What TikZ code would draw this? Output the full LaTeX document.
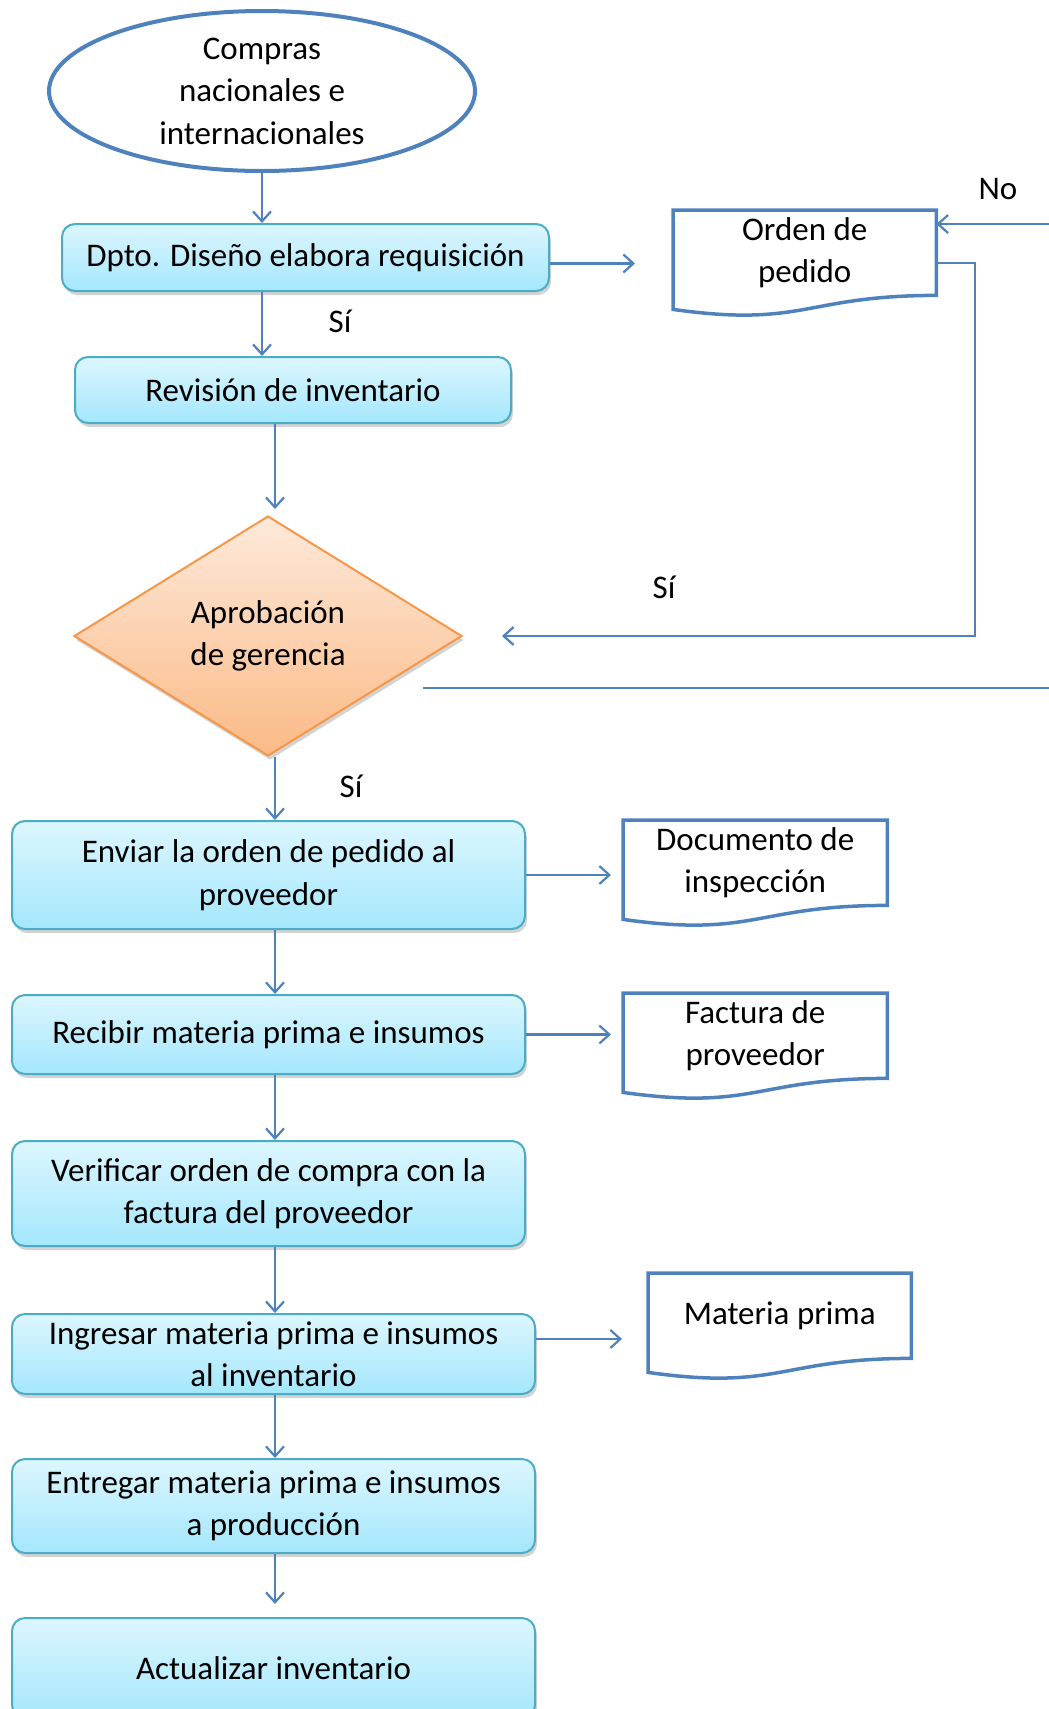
\documentclass[tikz,border=0pt]{standalone}
\usepackage{fontspec}
\setmainfont{Carlito}
\usetikzlibrary{shapes.geometric,arrows.meta,shadows,calc}
\definecolor{lineblue}{HTML}{4F81BD}
\definecolor{boxborder}{HTML}{4BACC6}
\definecolor{boxtop}{HTML}{DCF6FE}
\definecolor{boxbot}{HTML}{A4E7FC}
\definecolor{diatop}{HTML}{FDE9DA}
\definecolor{diabot}{HTML}{FBBA86}
\definecolor{diaborder}{HTML}{F79646}
\tikzset{
  txt/.style={font=\fontsize{33}{42.5}\selectfont, align=center, text=black},
  procbox/.style={txt, draw=boxborder, line width=2pt, rounded corners=13pt,
    top color=boxtop, bottom color=boxbot, inner sep=0pt,
    drop shadow={opacity=0.35, shadow xshift=2pt, shadow yshift=-4pt}},
  decbox/.style={txt, shape=diamond, draw=diaborder, line width=2pt,
    top color=diatop, bottom color=diabot, inner sep=0pt,
    minimum width=388pt, minimum height=240pt,
    drop shadow={opacity=0.35, shadow xshift=2pt, shadow yshift=-4pt}},
  startbox/.style={txt, shape=ellipse, draw=lineblue, line width=4pt, fill=white,
    minimum width=426pt, minimum height=160pt, inner sep=0pt},
  docnode/.style={txt, anchor=north west, inner sep=0pt, minimum height=85pt},
  docline/.style={draw=lineblue, line width=3.5pt, line join=miter},
  conn/.style={draw=lineblue, line width=2.2pt, -{Straight Barb[length=10pt,width=18pt]}},
  plainline/.style={draw=lineblue, line width=2.2pt},
  lbl/.style={txt, inner sep=0pt}
}
\newcommand{\docshape}[1]{%
  \draw[docline] ([yshift=-14pt]#1.south west) -- (#1.north west) -- (#1.north east)
    -- (#1.south east) .. controls (#1.south) and ([yshift=-32.5pt]#1.south)
    .. ([yshift=-14pt]#1.south west) -- cycle;}
\begin{document}
\begin{tikzpicture}[x=1pt,y=-1pt]
\useasboundingbox (0,0) rectangle (1049,1709);
% start
\node[startbox] (ell) at (262,91) {Compras\\nacionales e\\internacionales};
% process boxes
\node[procbox, minimum width=487pt, minimum height=67pt] (dpto) at (305.5,257.5) {Dpto. Diseño elabora requisición};
\node[procbox, minimum width=436pt, minimum height=66pt] (rev) at (293,390) {Revisión de inventario};
\node[decbox] (dia) at (268,636) {Aprobación\\de gerencia};
\node[procbox, minimum width=513pt, minimum height=108pt] (env) at (268.5,875) {Enviar la orden de pedido al\\proveedor};
\node[procbox, minimum width=513pt, minimum height=79pt] (rec) at (268.5,1034.5) {Recibir materia prima e insumos};
\node[procbox, minimum width=513pt, minimum height=105pt] (ver) at (268.5,1193.5) {Verificar orden de compra con la\\factura del proveedor};
\node[procbox, minimum width=523pt, minimum height=80pt] (ing) at (273.5,1354) {Ingresar materia prima e insumos\\al inventario};
\node[procbox, minimum width=523pt, minimum height=94pt] (ent) at (273.5,1506) {Entregar materia prima e insumos\\a producción};
\node[procbox, minimum width=523pt, minimum height=100pt] (act) at (273.5,1668) {Actualizar inventario};
% documents
\node[docnode, minimum width=263pt] (ord) at (673,210) {Orden de\\pedido};
\docshape{ord}
\node[docnode, minimum width=264pt] (insp) at (623,820) {Documento de\\inspección};
\docshape{insp}
\node[docnode, minimum width=264pt] (fact) at (623,993) {Factura de\\proveedor};
\docshape{fact}
\node[docnode, minimum width=263pt] (mat) at (648,1273) {Materia prima};
\docshape{mat}
% helper coordinates
\coordinate (col) at (275,0);
\coordinate (loopx) at (975,0);
\coordinate (edgeNo) at (1049,224);
\coordinate (lineA) at (423,688);
\coordinate (lineB) at (1049,688);
% connectors
\draw[conn] (ell.south) -- (ell.south |- dpto.north);
\draw[conn] (ell.south |- dpto.south) -- (ell.south |- rev.north);
\draw[conn, shorten >=38pt] ([yshift=-6pt]dpto.east) -- ([yshift=-6pt]dpto.east -| ord.west);
\draw[conn] (edgeNo) -- (edgeNo -| ord.east);
\draw[conn, shorten >=39pt] ([yshift=-10pt]ord.east) -- ([yshift=-10pt]ord.east -| loopx) -- (loopx |- dia.east) -- (dia.east);
\draw[plainline] (lineA) -- (lineB);
\draw[conn, shorten >=6pt] (col |- rev.south) -- (col |- dia.north);
\draw[conn] (col |- dia.south) -- (col |- env.north);
\draw[conn] (col |- env.south) -- (col |- rec.north);
\draw[conn] (col |- rec.south) -- (col |- ver.north);
\draw[conn] (col |- ver.south) -- (col |- ing.north);
\draw[conn] (col |- ing.south) -- (col |- ent.north);
\draw[conn, shorten >=13pt] (col |- ent.south) -- (col |- act.north);
\draw[conn, shorten >=12pt] (env.east) -- (env.east -| insp.west);
\draw[conn, shorten >=12pt] (rec.east) -- (rec.east -| fact.west);
\draw[conn, shorten >=26pt] ([yshift=15pt]ing.east) -- ([yshift=15pt]ing.east -| mat.west);
% labels
\node[lbl] (lno) at (998,189) {No};
\node[lbl] (ls1) at (340,321) {Sí};
\node[lbl] (ls2) at (664,587) {Sí};
\node[lbl] (ls3) at (351,786) {Sí};
\end{tikzpicture}
\end{document}
